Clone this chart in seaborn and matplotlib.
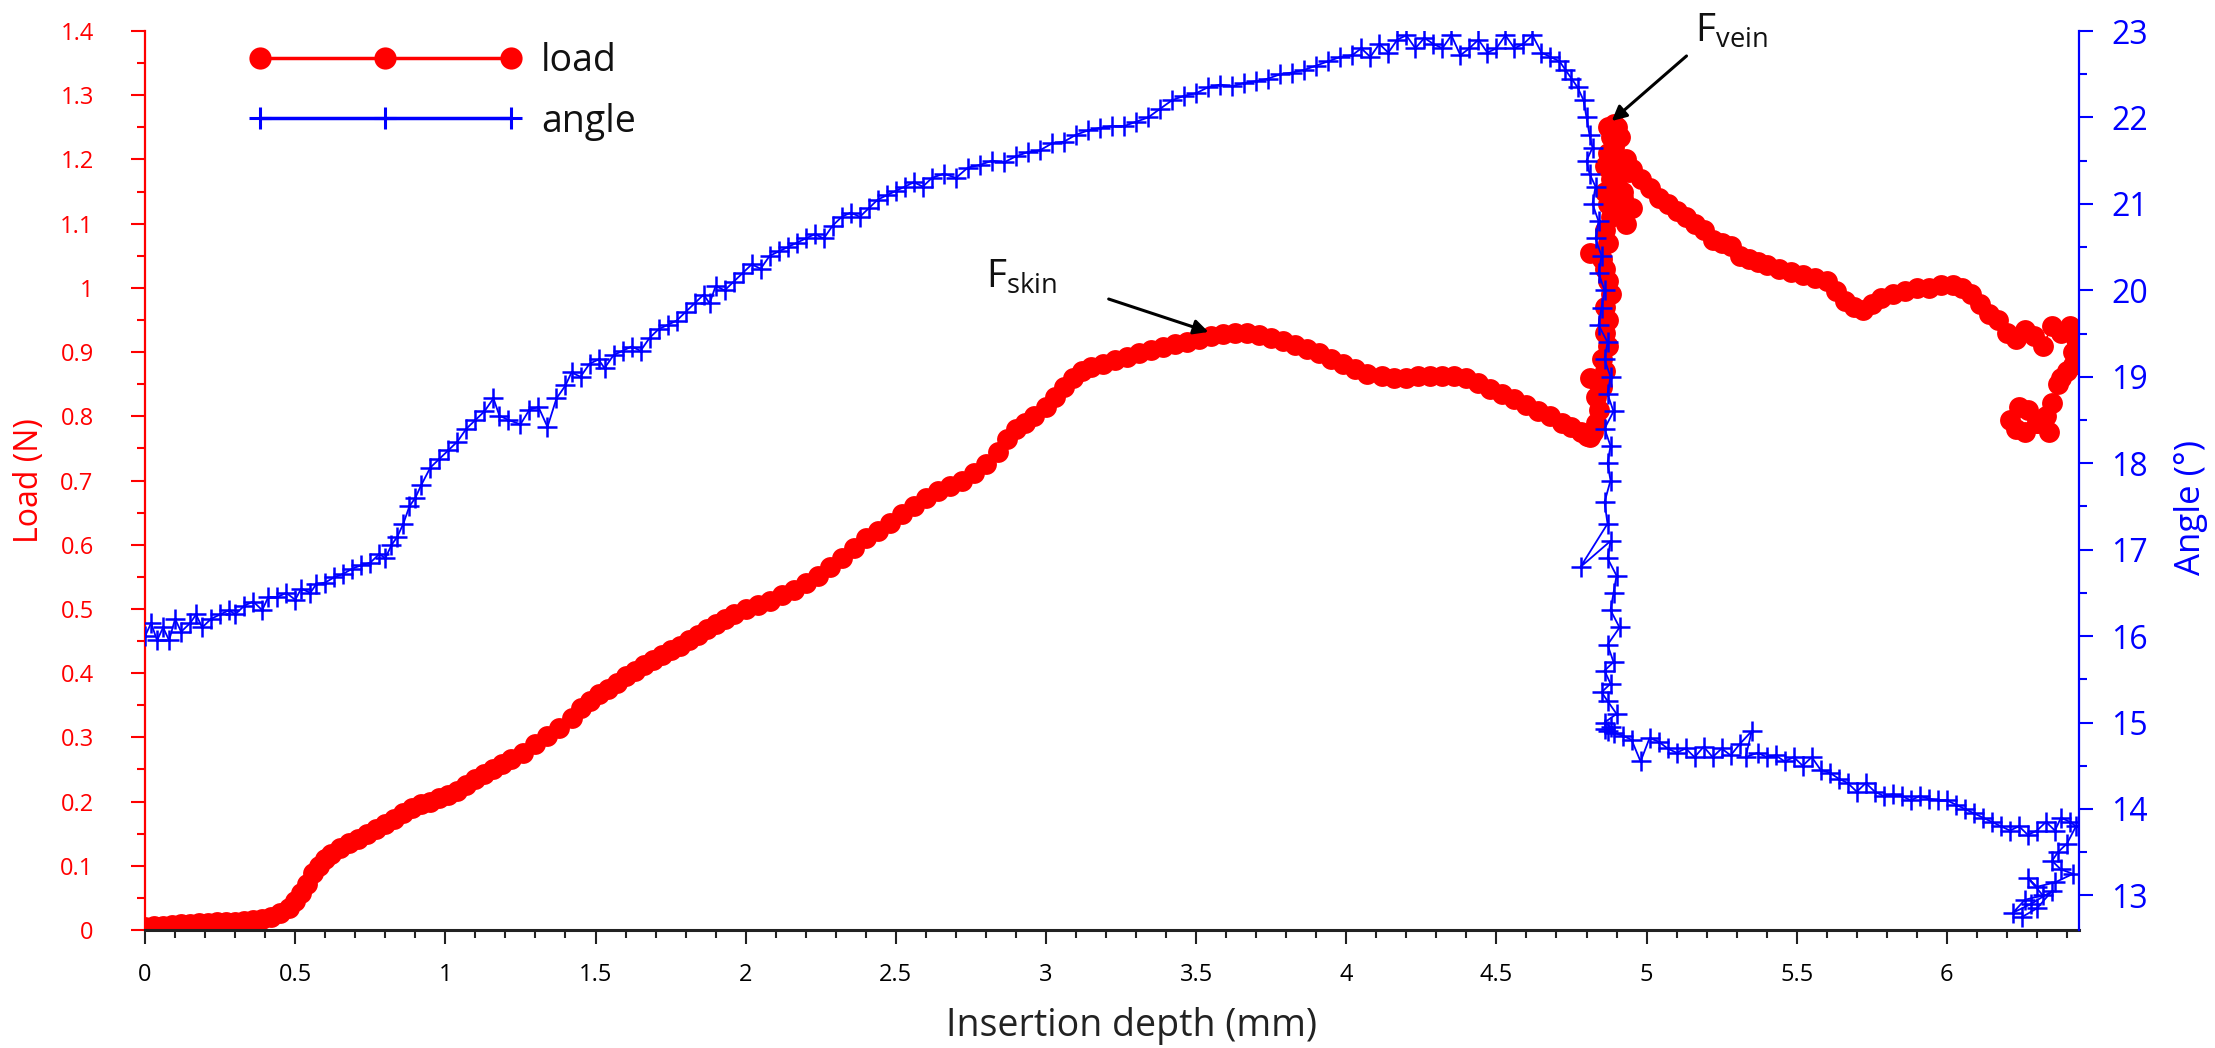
import matplotlib
matplotlib.use("Agg")
import matplotlib.pyplot as plt
import seaborn as sns
from matplotlib.ticker import MultipleLocator, FormatStrFormatter, FuncFormatter
from matplotlib.lines import Line2D

# Needle insertion: load (N) and needle angle (deg) versus insertion depth (mm)
load_depth = [
    0.00, 0.03, 0.06, 0.09, 0.12, 0.15, 0.18, 0.21, 0.24, 0.27, 0.30, 0.33, 0.36, 0.39,
    0.42, 0.45, 0.48, 0.50, 0.52, 0.54, 0.56, 0.58, 0.60, 0.62, 0.65, 0.68, 0.71, 0.74,
    0.77, 0.80, 0.83, 0.86, 0.89, 0.92, 0.95, 0.98, 1.01, 1.04, 1.07, 1.10, 1.13, 1.16,
    1.19, 1.22, 1.26, 1.30, 1.34, 1.38, 1.42, 1.45, 1.48, 1.51, 1.54, 1.57, 1.60, 1.63,
    1.66, 1.69, 1.72, 1.75, 1.78, 1.81, 1.84, 1.87, 1.90, 1.93, 1.96, 2.00, 2.04, 2.08,
    2.12, 2.16, 2.20, 2.24, 2.28, 2.32, 2.36, 2.40, 2.44, 2.48, 2.52, 2.56, 2.60, 2.64,
    2.68, 2.72, 2.76, 2.80, 2.84, 2.87, 2.90, 2.93, 2.96, 3.00, 3.03, 3.06, 3.09, 3.12,
    3.15, 3.19, 3.23, 3.27, 3.31, 3.35, 3.39, 3.43, 3.47, 3.51, 3.55, 3.59, 3.63, 3.67,
    3.71, 3.75, 3.79, 3.83, 3.87, 3.91, 3.95, 3.99, 4.03, 4.07, 4.12, 4.16, 4.20, 4.24,
    4.28, 4.32, 4.36, 4.40, 4.44, 4.48, 4.52, 4.56, 4.60, 4.64, 4.68, 4.72, 4.75, 4.78,
    4.80, 4.81, 4.82, 4.83, 4.84, 4.83, 4.85, 4.81, 4.84, 4.86, 4.85, 4.87, 4.86, 4.87,
    4.86, 4.88, 4.87, 4.86, 4.81, 4.85, 4.87, 4.86, 4.88, 4.87, 4.86, 4.88, 4.86, 4.87,
    4.88, 4.87, 4.89, 4.90, 4.91, 4.89, 4.91, 4.88, 4.90, 4.92, 4.90, 4.93, 4.95, 4.92,
    4.94, 4.93, 4.95, 4.98, 5.01, 5.04, 5.07, 5.10, 5.13, 5.16, 5.19, 5.22, 5.25, 5.28,
    5.31, 5.34, 5.37, 5.40, 5.44, 5.48, 5.52, 5.56, 5.60, 5.63, 5.66, 5.69, 5.72, 5.75,
    5.78, 5.82, 5.86, 5.90, 5.94, 5.98, 6.02, 6.05, 6.08, 6.11, 6.14, 6.17, 6.20, 6.23,
    6.26, 6.29, 6.32, 6.35, 6.38, 6.41, 6.43, 6.42, 6.40, 6.37, 6.35, 6.33, 6.30, 6.27,
    6.24, 6.21, 6.23, 6.26, 6.30, 6.34, 6.38, 6.42,
]
load_value = [
    0.005, 0.006, 0.007, 0.008, 0.009, 0.010, 0.011, 0.011, 0.012, 0.012, 0.013, 0.014, 0.015, 0.017,
    0.020, 0.026, 0.035, 0.045, 0.058, 0.072, 0.088, 0.100, 0.110, 0.118, 0.127, 0.135, 0.142, 0.150,
    0.158, 0.165, 0.173, 0.182, 0.190, 0.196, 0.200, 0.205, 0.210, 0.217, 0.226, 0.235, 0.243, 0.250,
    0.258, 0.266, 0.276, 0.290, 0.302, 0.315, 0.330, 0.345, 0.357, 0.367, 0.376, 0.385, 0.395, 0.403,
    0.412, 0.420, 0.428, 0.436, 0.443, 0.452, 0.460, 0.468, 0.477, 0.485, 0.492, 0.500, 0.506, 0.513,
    0.521, 0.530, 0.540, 0.552, 0.566, 0.580, 0.595, 0.610, 0.622, 0.634, 0.648, 0.660, 0.672, 0.683,
    0.692, 0.700, 0.712, 0.725, 0.745, 0.765, 0.780, 0.790, 0.800, 0.815, 0.830, 0.845, 0.860, 0.870,
    0.876, 0.882, 0.888, 0.893, 0.898, 0.903, 0.908, 0.912, 0.916, 0.920, 0.925, 0.928, 0.930, 0.929,
    0.926, 0.922, 0.917, 0.911, 0.905, 0.898, 0.890, 0.882, 0.873, 0.866, 0.862, 0.860, 0.860, 0.862,
    0.863, 0.863, 0.862, 0.860, 0.852, 0.843, 0.835, 0.827, 0.818, 0.808, 0.800, 0.790, 0.783, 0.776,
    0.770, 0.768, 0.775, 0.790, 0.810, 0.830, 0.845, 0.860, 0.850, 0.870, 0.890, 0.910, 0.930, 0.950,
    0.970, 0.990, 1.010, 1.030, 1.055, 1.045, 1.070, 1.090, 1.110, 1.130, 1.150, 1.170, 1.190, 1.210,
    1.235, 1.250, 1.255, 1.250, 1.235, 1.220, 1.200, 1.180, 1.160, 1.140, 1.120, 1.100, 1.125, 1.150,
    1.180, 1.200, 1.185, 1.170, 1.155, 1.140, 1.130, 1.120, 1.110, 1.100, 1.090, 1.075, 1.070, 1.065,
    1.050, 1.045, 1.040, 1.035, 1.030, 1.025, 1.020, 1.015, 1.010, 0.995, 0.980, 0.970, 0.965, 0.975,
    0.985, 0.990, 0.995, 1.000, 1.000, 1.005, 1.005, 1.000, 0.990, 0.975, 0.960, 0.950, 0.930, 0.920,
    0.935, 0.925, 0.910, 0.940, 0.930, 0.940, 0.920, 0.880, 0.870, 0.850, 0.820, 0.800, 0.790, 0.810,
    0.815, 0.795, 0.780, 0.775, 0.790, 0.775, 0.860, 0.900,
]

angle_depth = [
    0.00, 0.02, 0.04, 0.06, 0.08, 0.10, 0.12, 0.15, 0.17, 0.19, 0.22, 0.25, 0.28, 0.30,
    0.33, 0.36, 0.39, 0.41, 0.44, 0.47, 0.50, 0.52, 0.55, 0.57, 0.60, 0.63, 0.66, 0.69,
    0.72, 0.75, 0.78, 0.80, 0.82, 0.84, 0.86, 0.88, 0.90, 0.92, 0.95, 0.98, 1.01, 1.04,
    1.07, 1.10, 1.13, 1.16, 1.18, 1.21, 1.25, 1.28, 1.31, 1.34, 1.37, 1.40, 1.42, 1.45,
    1.48, 1.51, 1.53, 1.56, 1.59, 1.62, 1.65, 1.68, 1.71, 1.74, 1.77, 1.80, 1.83, 1.86,
    1.88, 1.90, 1.93, 1.96, 1.99, 2.02, 2.05, 2.08, 2.11, 2.14, 2.17, 2.20, 2.23, 2.26,
    2.29, 2.32, 2.35, 2.38, 2.41, 2.44, 2.47, 2.50, 2.53, 2.56, 2.59, 2.62, 2.66, 2.70,
    2.74, 2.78, 2.82, 2.86, 2.90, 2.94, 2.98, 3.02, 3.06, 3.10, 3.14, 3.18, 3.22, 3.26,
    3.30, 3.34, 3.38, 3.42, 3.46, 3.50, 3.54, 3.58, 3.62, 3.66, 3.70, 3.74, 3.78, 3.82,
    3.86, 3.90, 3.94, 3.98, 4.02, 4.05, 4.08, 4.11, 4.14, 4.17, 4.20, 4.23, 4.26, 4.29,
    4.32, 4.35, 4.38, 4.41, 4.44, 4.47, 4.50, 4.53, 4.56, 4.59, 4.62, 4.65, 4.68, 4.71,
    4.73, 4.75, 4.77, 4.79, 4.80, 4.81, 4.82, 4.80, 4.81, 4.83, 4.82, 4.84, 4.83, 4.85,
    4.84, 4.86, 4.85, 4.84, 4.87, 4.86, 4.88, 4.87, 4.89, 4.86, 4.88, 4.87, 4.88, 4.86,
    4.87, 4.78, 4.88, 4.87, 4.90, 4.89, 4.88, 4.91, 4.87, 4.89, 4.86, 4.88, 4.85, 4.87,
    4.90, 4.86, 4.88, 4.87, 4.86, 4.89, 4.92, 4.95, 4.98, 5.01, 5.04, 5.07, 5.10, 5.13,
    5.16, 5.19, 5.22, 5.25, 5.28, 5.31, 5.35, 5.33, 5.37, 5.40, 5.43, 5.46, 5.49, 5.52,
    5.55, 5.58, 5.61, 5.64, 5.67, 5.70, 5.73, 5.76, 5.79, 5.82, 5.85, 5.88, 5.91, 5.94,
    5.97, 6.00, 6.03, 6.06, 6.09, 6.12, 6.15, 6.18, 6.21, 6.24, 6.27, 6.30, 6.33, 6.36,
    6.38, 6.41, 6.43, 6.40, 6.37, 6.35, 6.38, 6.42, 6.36, 6.30, 6.27, 6.32, 6.26, 6.22,
    6.28, 6.35, 6.30, 6.25,
]
angle_value = [
    16.00, 16.15, 15.95, 16.10, 15.95, 16.20, 16.05, 16.15, 16.25, 16.10, 16.20, 16.25, 16.30, 16.25,
    16.35, 16.40, 16.30, 16.45, 16.45, 16.50, 16.42, 16.55, 16.50, 16.60, 16.62, 16.68, 16.72, 16.78,
    16.82, 16.85, 16.95, 16.90, 17.05, 17.15, 17.30, 17.50, 17.60, 17.75, 17.95, 18.05, 18.15, 18.25,
    18.40, 18.50, 18.60, 18.75, 18.55, 18.50, 18.45, 18.62, 18.65, 18.42, 18.75, 18.90, 19.05, 19.00,
    19.15, 19.20, 19.10, 19.25, 19.30, 19.35, 19.30, 19.45, 19.55, 19.60, 19.65, 19.75, 19.85, 19.95,
    19.85, 20.05, 20.00, 20.10, 20.20, 20.30, 20.25, 20.40, 20.45, 20.50, 20.55, 20.60, 20.65, 20.60,
    20.75, 20.85, 20.90, 20.85, 20.95, 21.05, 21.10, 21.15, 21.20, 21.25, 21.20, 21.30, 21.35, 21.30,
    21.42, 21.45, 21.50, 21.48, 21.55, 21.60, 21.62, 21.70, 21.72, 21.80, 21.85, 21.88, 21.90, 21.90,
    21.95, 22.00, 22.10, 22.20, 22.25, 22.28, 22.35, 22.38, 22.36, 22.40, 22.42, 22.45, 22.50, 22.52,
    22.55, 22.60, 22.65, 22.70, 22.72, 22.80, 22.70, 22.85, 22.75, 22.90, 22.95, 22.80, 22.92, 22.85,
    22.80, 22.95, 22.72, 22.80, 22.90, 22.75, 22.80, 22.95, 22.80, 22.85, 22.95, 22.75, 22.70, 22.65,
    22.55, 22.45, 22.35, 22.20, 22.00, 21.80, 21.65, 21.50, 21.35, 21.20, 21.00, 20.80, 20.60, 20.40,
    20.20, 20.00, 19.80, 19.60, 19.40, 19.20, 19.00, 18.80, 18.60, 18.40, 18.20, 18.00, 17.80, 17.55,
    17.30, 16.80, 17.10, 16.90, 16.70, 16.50, 16.30, 16.10, 15.90, 15.70, 15.60, 15.45, 15.35, 15.25,
    15.10, 15.00, 14.95, 14.90, 14.92, 14.88, 14.85, 14.80, 14.55, 14.82, 14.78, 14.70, 14.65, 14.70,
    14.60, 14.72, 14.60, 14.70, 14.62, 14.75, 14.90, 14.60, 14.65, 14.60, 14.62, 14.55, 14.60, 14.50,
    14.60, 14.45, 14.42, 14.35, 14.30, 14.20, 14.30, 14.20, 14.15, 14.17, 14.15, 14.10, 14.15, 14.12,
    14.10, 14.10, 14.05, 14.00, 13.95, 13.90, 13.85, 13.80, 13.75, 13.80, 13.70, 13.75, 13.85, 13.75,
    13.90, 13.85, 13.80, 13.60, 13.50, 13.40, 13.30, 13.25, 13.15, 13.10, 13.20, 13.00, 12.95, 12.80,
    12.90, 13.05, 12.85, 12.75,
]

x_ticks = [0, 0.5, 1, 1.5, 2, 2.5, 3, 3.5, 4, 4.5, 5, 5.5, 6]
load_ticks = [0, 0.1, 0.2, 0.3, 0.4, 0.5, 0.6, 0.7, 0.8, 0.9, 1, 1.1, 1.2, 1.3, 1.4]
angle_ticks = [13, 14, 15, 16, 17, 18, 19, 20, 21, 22, 23]

RED = "#ff0000"
BLUE = "#0000ff"

sns.set_theme(style="white")
plt.rcParams["font.family"] = ["Open Sans", "DejaVu Sans"]
plt.rcParams["mathtext.fontset"] = "custom"
plt.rcParams["mathtext.rm"] = "Open Sans"
plt.rcParams["mathtext.it"] = "Open Sans"

fig = plt.figure(figsize=(22.15, 10.48), dpi=100)
ax = fig.add_axes([0.0655, 0.1126, 0.8731, 0.8578])
ax2 = ax.twinx()

sns.lineplot(x=load_depth, y=load_value, sort=False, estimator=None, ax=ax,
             color=RED, lw=1.2, marker="o", markersize=15, markeredgewidth=0,
             legend=False)
sns.lineplot(x=angle_depth, y=angle_value, sort=False, estimator=None, ax=ax2,
             color=BLUE, lw=1.3, marker="+", markersize=14, markeredgewidth=1.8,
             markeredgecolor=BLUE, legend=False)

ax.set_xlim(0, 6.44)
ax.set_ylim(0, 1.4)
ax2.set_ylim(12.6, 23)

ax.set_xticks(x_ticks)
ax.set_yticks(load_ticks)
ax2.set_yticks(angle_ticks)
ax.xaxis.set_minor_locator(MultipleLocator(0.1))
ax.yaxis.set_minor_locator(MultipleLocator(0.05))
ax2.yaxis.set_minor_locator(MultipleLocator(0.5))
fmt = FuncFormatter(lambda v, p: f"{v:g}")
ax.xaxis.set_major_formatter(fmt)
ax.yaxis.set_major_formatter(fmt)
ax2.yaxis.set_major_formatter(FormatStrFormatter("%d"))

for a in (ax, ax2):
    a.spines["top"].set_visible(False)
    a.grid(False)
ax.spines["right"].set_visible(False)
ax2.spines["left"].set_visible(False)
ax2.spines["bottom"].set_visible(False)
ax.spines["left"].set_color(RED)
ax.spines["left"].set_linewidth(1.6)
ax.spines["bottom"].set_color("#222222")
ax.spines["bottom"].set_linewidth(2.2)
ax2.spines["right"].set_color(BLUE)
ax2.spines["right"].set_linewidth(1.6)

ax.tick_params(axis="x", which="both", bottom=True, direction="out", colors="#222222",
               labelcolor="black", labelsize=17, width=1.5)
ax.tick_params(axis="x", which="major", length=10, pad=14)
ax.tick_params(axis="x", which="minor", length=6)
ax.tick_params(axis="y", which="both", left=True, direction="out", colors=RED,
               labelsize=17, width=1.5)
ax.tick_params(axis="y", which="major", length=10, pad=27)
ax.tick_params(axis="y", which="minor", length=6)
ax2.tick_params(axis="y", which="both", right=True, direction="out", colors=BLUE,
                labelsize=23, width=1.5)
ax2.tick_params(axis="y", which="major", length=10, pad=13)
ax2.tick_params(axis="y", which="minor", length=6)

ax.set_xlabel("Insertion depth (mm)", fontsize=27, color="#222222")
ax.xaxis.set_label_coords(0.51, -0.086)
ax.set_ylabel("Load (N)", fontsize=23, color=RED)
ax.yaxis.set_label_coords(-0.051, 0.5)
ax2.set_ylabel("Angle (°)", fontsize=25, color=BLUE, rotation=90)
ax2.yaxis.set_label_coords(1.049, 0.47)

# Peak annotations
ax.annotate("", xy=(3.55, 0.930), xytext=(3.20, 0.984),
            arrowprops=dict(arrowstyle="-|>", color="black", lw=2.2, mutation_scale=22))
ax.text(2.80, 1.0, r"F$_{\mathrm{skin}}$", fontsize=28, color="#111111",
        ha="left", va="baseline")
ax.annotate("", xy=(4.877, 1.257), xytext=(5.14, 1.364),
            arrowprops=dict(arrowstyle="-|>", color="black", lw=2.2, mutation_scale=22),
            annotation_clip=False)
ax.text(5.16, 1.383, r"F$_{\mathrm{vein}}$", fontsize=28, color="#111111",
        ha="left", va="baseline", clip_on=False)

handles = [
    Line2D([], [], color=RED, lw=2.5, marker="o", markersize=16, markeredgewidth=0),
    Line2D([], [], color=BLUE, lw=2.5, marker="+", markersize=16, markeredgewidth=2.2),
]
leg = ax2.legend(handles, ["load", "angle"], loc="center left",
                 bbox_to_anchor=(0.036, 0.933), frameon=False, numpoints=3,
                 handlelength=7.3, handletextpad=0.5, labelspacing=0.6, fontsize=27)
for t in leg.get_texts():
    t.set_color("#111111")

fig.savefig("out.png", dpi=100, facecolor="white")
